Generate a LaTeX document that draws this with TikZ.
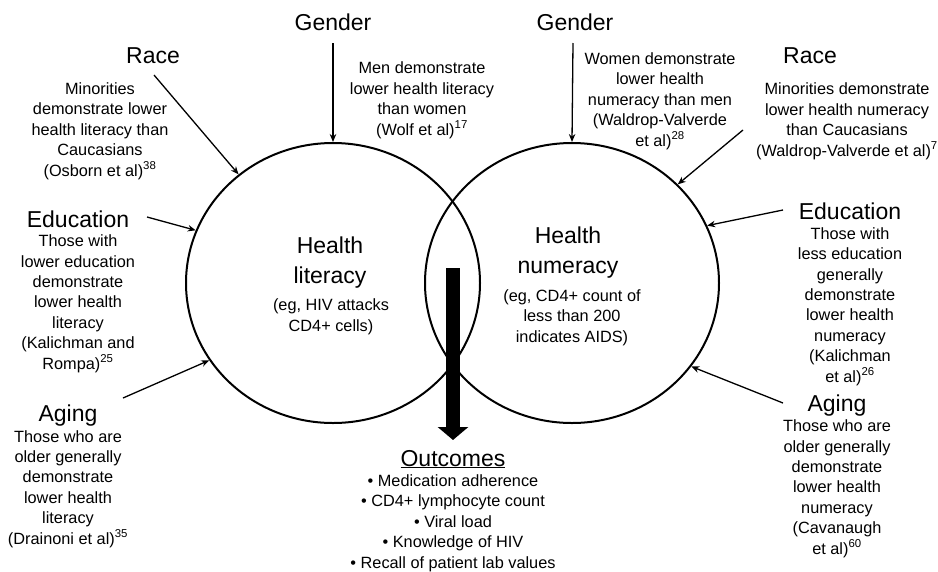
\documentclass[tikz,border=0pt]{standalone}
\usepackage{fontspec}
\setmainfont{Liberation Sans}
\usetikzlibrary{arrows.meta,shapes.geometric}
\begin{document}
\begin{tikzpicture}[x=1pt,y=-1pt,
  big/.style={font=\fontsize{23}{30}\selectfont, align=center, inner sep=0pt, anchor=base},
  small/.style={font=\fontsize{16.3}{20.4}\selectfont, align=center, inner sep=0pt, anchor=base},
  ring/.style={draw, ellipse, line width=2pt, minimum width=294pt, minimum height=280pt, inner sep=0pt},
  conn/.style={-{Stealth[length=8pt,width=6.5pt]}, line width=1.3pt},
  bigarrow/.style={line width=14pt, -{Triangle[length=13pt,width=30pt]}},
]
\useasboundingbox (0,0) rectangle (938,571);

% circles
\node[ring] (L) at (333,283) {};
\node[ring] (R) at (572,283) {};

% centre texts (y = baseline of last line)
\node[big] (hl) at (330,283) {Health\\literacy};
\node[small] (hle) at (331,331) {(eg, HIV attacks\\CD4+ cells)};
\node[big] (hn) at (568,273) {Health\\numeracy};
\node[small] (hne) at (572,342) {(eg, CD4+ count of\\less than 200\\indicates AIDS)};

% big arrow
\coordinate (ba) at (453,268);
\coordinate (bb) at (453,440);
\draw[bigarrow] (ba) -- (bb);

% outcomes
\node[big] (out) at (453,466) {\underline{Outcomes}};
\node[small] (outl) at (453,568) {• Medication adherence\\• CD4+ lymphocyte count\\• Viral load\\• Knowledge of HIV\\• Recall of patient lab values};

% left side
\node[big] (gl) at (333,30) {Gender};
\node[small] (gltx) at (422,135) {Men demonstrate\\lower health literacy\\than women\\(Wolf et al)\textsuperscript{17}};
\node[big] (rl) at (153,63) {Race};
\node[small] (rltx) at (100,176) {Minorities\\demonstrate lower\\health literacy than\\Caucasians\\(Osborn et al)\textsuperscript{38}};
\node[big] (el) at (78,227) {Education};
\node[small] (eltx) at (78,369) {Those with\\lower education\\demonstrate\\lower health\\literacy\\(Kalichman and\\Rompa)\textsuperscript{25}};
\node[big] (al) at (68,421) {Aging};
\node[small] (altx) at (68,544) {Those who are\\older generally\\demonstrate\\lower health\\literacy\\(Drainoni et al)\textsuperscript{35}};

% right side
\node[big] (gr) at (575,30) {Gender};
\node[small] (grtx) at (660,146) {Women demonstrate\\lower health\\numeracy than men\\(Waldrop-Valverde\\et al)\textsuperscript{28}};
\node[big] (rr) at (810,63) {Race};
\node[small] (rrtx) at (847,156) {Minorities demonstrate\\lower health numeracy\\than Caucasians\\(Waldrop-Valverde et al)\textsuperscript{7}};
\node[big] (er) at (850,219) {Education};
\node[small] (ertx) at (850,382) {Those with\\less education\\generally\\demonstrate\\lower health\\numeracy\\(Kalichman\\et al)\textsuperscript{26}};
\node[big] (ar) at (837,411) {Aging};
\node[small] (artx) at (837,554) {Those who are\\older generally\\demonstrate\\lower health\\numeracy\\(Cavanaugh\\et al)\textsuperscript{60}};

% arrow start points
\coordinate (sgl) at (333,43);
\coordinate (srl) at (154,75);
\coordinate (sel) at (147,217);
\coordinate (sal) at (123,398);
\coordinate (sgr) at (573,43);
\coordinate (srr) at (743,130);
\coordinate (ser) at (783,210);
\coordinate (sar) at (783,403);

\draw[conn] (sgl) -- (L.90);
\draw[conn] (srl) -- (L.131);
\draw[conn] (sel) -- (L.159);
\draw[conn] (sal) -- (L.212);
\draw[conn] (sgr) -- (R.90);
\draw[conn] (srr) -- (R.43);
\draw[conn] (ser) -- (R.23);
\draw[conn] (sar) -- (R.-35);
\end{tikzpicture}
\end{document}
